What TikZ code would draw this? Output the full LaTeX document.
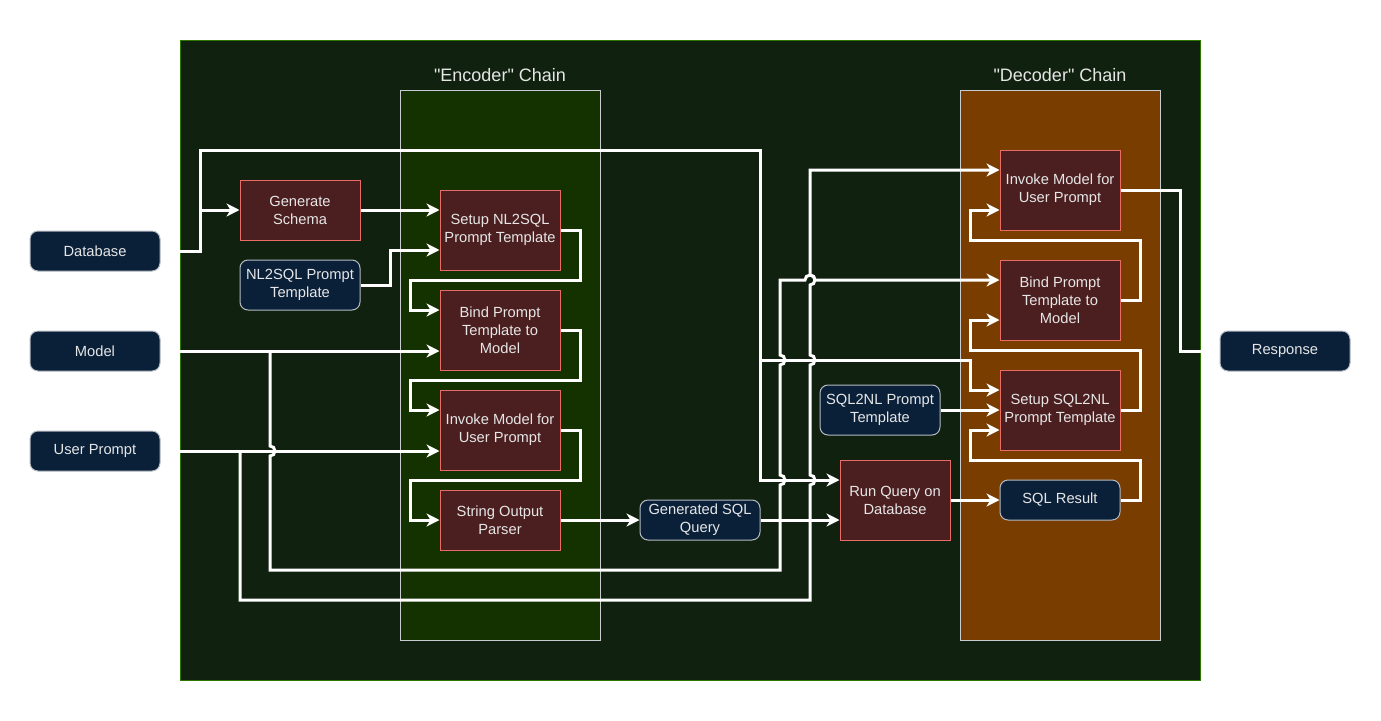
\documentclass[tikz,border=0pt]{standalone}
\usepackage{fontspec}
\setmainfont{Liberation Sans}[Ligatures=TeXOff]
\usetikzlibrary{arrows.meta,calc}
\definecolor{outerfill}{HTML}{10220F}
\definecolor{outerline}{HTML}{2D7600}
\definecolor{encfill}{HTML}{143100}
\definecolor{decfill}{HTML}{7A3D00}
\definecolor{chainline}{HTML}{C8CCD0}
\definecolor{procfill}{HTML}{4B1F20}
\definecolor{procline}{HTML}{EA6B66}
\definecolor{datfill}{HTML}{0A2039}
\definecolor{datline}{HTML}{B4BAC2}
\definecolor{txt}{HTML}{E6E6E6}
\tikzset{
  label text/.style={text=txt, font=\fontsize{14.7}{18}\selectfont, align=center, inner sep=1pt},
  proc/.style={label text, draw=procline, fill=procfill, line width=1pt,
    minimum width=120pt, minimum height=80pt},
  dat/.style={label text, draw=datline, fill=datfill, line width=1pt,
    rounded corners=8pt, minimum width=120pt, minimum height=40pt},
  port/.style={dat, minimum width=130pt},
  chain/.style={draw=chainline, line width=1pt, minimum width=200pt, minimum height=550pt},
  chain title/.style={text=txt, font=\fontsize{18}{22}\selectfont},
  wire/.style={draw=white, line width=3pt, -{Stealth[length=13pt,width=13pt,inset=4pt]}},
  bare wire/.style={draw=white, line width=3pt}
}
\begin{document}
\begin{tikzpicture}[x=1pt,y=-1pt]
  \useasboundingbox (0,0) rectangle (1381,720);
  \fill[white] (0,0) rectangle (1381,720);
  \node[draw=outerline, fill=outerfill, line width=1pt, minimum width=1020pt,
    minimum height=640pt, inner sep=0pt] (outer) at (690,360) {};
  \node[chain, fill=encfill] (enc) at (500,365) {};
  \node[chain, fill=decfill] (dec) at (1060,365) {};
  \node[chain title] (enctitle) at (500,75) {"Encoder" Chain};
  \node[chain title] (dectitle) at (1060,75) {"Decoder" Chain};

  \node[port] (db) at (95,251) {Database};
  \node[port] (model) at (95,351) {Model};
  \node[port] (prompt) at (95,451) {User Prompt};
  \node[port] (resp) at (1285,351) {Response};

  \node[proc, minimum height=60pt] (gen) at (300,210) {Generate\\Schema};
  \node[dat, minimum height=50pt] (nltmp) at (300,285) {NL2SQL Prompt\\Template};
  \node[proc] (setupA) at (500,230) {Setup NL2SQL\\Prompt Template};
  \node[proc] (bindA) at (500,330) {Bind Prompt\\Template to\\Model};
  \node[proc] (invokeA) at (500,430) {Invoke Model for\\User Prompt};
  \node[proc, minimum height=60pt] (parser) at (500,520) {String Output\\Parser};
  \node[dat] (sqlq) at (700,520) {Generated SQL\\Query};
  \node[proc, minimum width=110pt] (run) at (895,500) {Run Query on\\Database};
  \node[dat] (sqlres) at (1060,500) {SQL Result};
  \node[dat, minimum height=50pt] (sltmp) at (880,410) {SQL2NL Prompt\\Template};
  \node[proc] (setupB) at (1060,410) {Setup SQL2NL\\Prompt Template};
  \node[proc] (bindB) at (1060,300) {Bind Prompt\\Template to\\Model};
  \node[proc] (invokeB) at (1060,190) {Invoke Model for\\User Prompt};

  \begin{scope}[wire]
    \draw (db -| outer.west) -- (200,251) |- (gen.west);
    \draw (200,210) |- (760,150) -- (760,480) -- ($(run.west)+(0,-20)$);
    \draw (760,360) -- (970,360) |- ($(setupB.west)+(0,-20)$);
    \draw (gen.east) -- (gen.east -| setupA.west);
    \draw (nltmp.east) -- (390,285) |- ($(setupA.west)+(0,20)$);
    \draw (setupA.east) -- (580,230) -- (580,280) -- (410,280) |- ($(bindA.west)+(0,-20)$);
    \draw (bindA.east) -- (580,330) -- (580,380) -- (410,380) |- ($(invokeA.west)+(0,-20)$);
    \draw (invokeA.east) -- (580,430) -- (580,480) -- (410,480) |- (parser.west);
    \draw (model -| outer.west) -- ($(bindA.west)+(0,21)$);
    \draw (270,351) -- (270,446) arc[start angle=90, end angle=-90, radius=5pt]
      -- (270,570) -- (780,570) -- (780,485) arc[start angle=-90, end angle=90, radius=5pt]
      -- (780,365) arc[start angle=-90, end angle=90, radius=5pt]
      -- (780,280) -- (805,280) arc[start angle=180, end angle=0, radius=5pt]
      -- ($(bindB.west)+(0,-20)$);
    \draw (prompt -| outer.west) -- ($(invokeA.west)+(0,21)$);
    \draw (240,451) -- (240,600) -- (810,600) -- (810,485) arc[start angle=-90, end angle=90, radius=5pt]
      -- (810,365) arc[start angle=-90, end angle=90, radius=5pt]
      -- (810,285) arc[start angle=-90, end angle=90, radius=5pt]
      -- (810,170) -- ($(invokeB.west)+(0,-20)$);
    \draw (parser.east) -- (sqlq.west);
    \draw (sqlq.east) -- ($(run.west)+(0,20)$);
    \draw (run.east) -- (sqlres.west);
    \draw (sqlres.east) -- (1140,500) -- (1140,460) -- (970,460) |- ($(setupB.west)+(0,20)$);
    \draw (sltmp.east) -- (setupB.west);
    \draw (setupB.east) -- (1140,410) -- (1140,350) -- (970,350) |- ($(bindB.west)+(0,20)$);
    \draw (bindB.east) -- (1140,300) -- (1140,240) -- (970,240) |- ($(invokeB.west)+(0,20)$);
  \end{scope}
  \draw[bare wire] (invokeB.east) -- (1180,190) -- (1180,351) -- (resp -| outer.east);
\end{tikzpicture}
\end{document}
